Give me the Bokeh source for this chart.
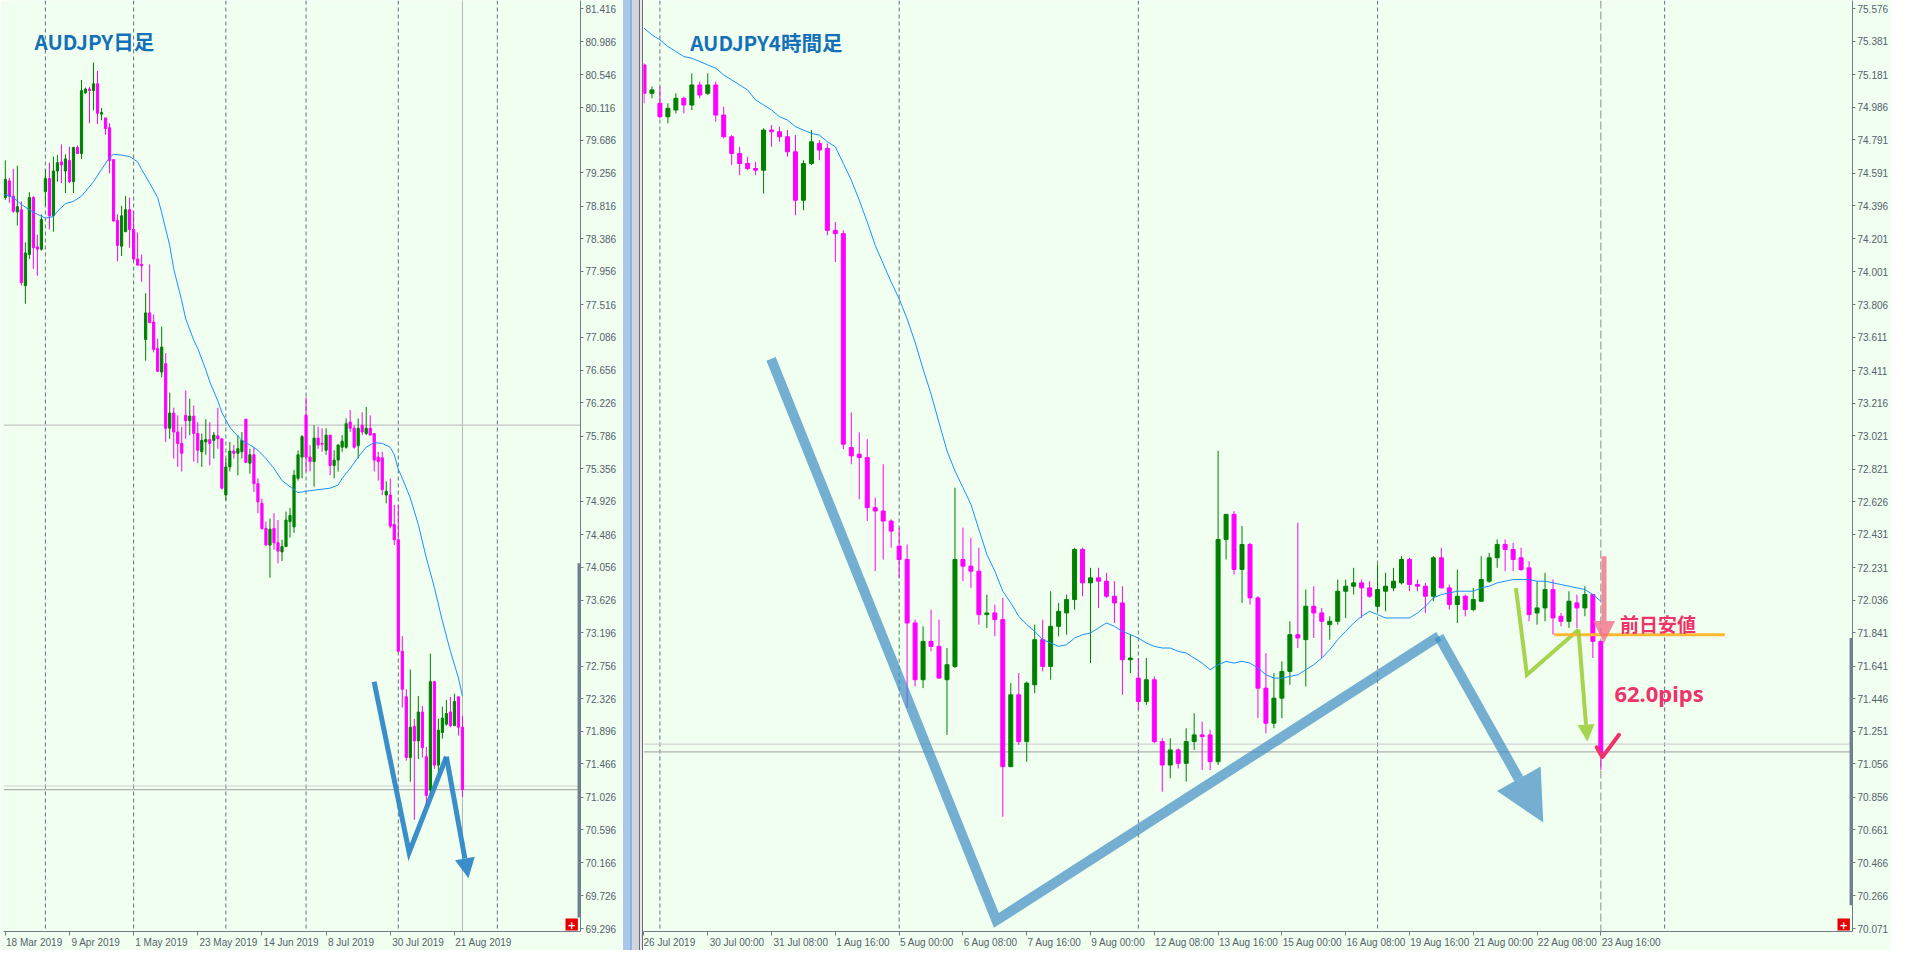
from bokeh.plotting import figure
from bokeh.layouts import row
from bokeh.models import (ColumnDataSource, FixedTicker, PrintfTickFormatter, Span, Label,
                          Arrow, NormalHead, BoxAnnotation, Div, Range1d)
from bokeh.embed import file_html
from bokeh.resources import INLINE

# ---------------- DATA : daily AUDJPY (18 Mar 2019 .. 23 Aug 2019) ----------------
d_open = [78.93, 79.15, 78.95, 78.74, 78.77, 77.77, 78.18, 78.93, 78.28, 78.25,
          79.01, 79.18, 78.69, 79.28, 79.40, 79.28, 79.42, 79.14, 79.59, 79.51,
          80.31, 80.36, 80.34, 80.43, 80.03, 79.98, 79.85, 79.43, 78.63, 78.29,
          78.48, 78.77, 78.51, 78.12, 78.05, 77.06, 77.41, 77.29, 76.94, 76.63,
          76.74, 75.89, 76.09, 75.84, 75.69, 76.06, 75.99, 76.05, 75.82, 75.58,
          75.71, 75.74, 75.73, 75.79, 75.75, 75.01, 75.38, 75.59, 75.56, 75.58,
          76.01, 75.43, 75.54, 75.16, 74.90, 74.57, 74.35, 74.57, 74.38, 74.26,
          74.33, 74.66, 74.59, 75.23, 75.51, 76.06, 75.51, 75.45, 75.76, 75.69,
          75.60, 75.80, 75.40, 75.47, 75.64, 75.64, 75.97, 75.89, 75.66, 75.93,
          75.82, 75.89, 75.82, 75.51, 75.50, 75.01, 75.01, 74.62, 74.42, 72.95,
          72.35, 71.55, 71.96, 71.77, 72.15, 71.56, 71.12, 72.55, 71.45, 71.88,
          71.99, 72.15, 71.97, 72.35, 71.95]
d_high = [79.42, 79.19, 79.31, 79.35, 78.88, 78.34, 79.00, 78.95, 78.44, 78.71,
          79.30, 79.39, 79.47, 79.49, 79.63, 79.50, 79.60, 79.60, 79.62, 80.48,
          80.38, 80.39, 80.71, 80.60, 80.11, 79.98, 79.91, 79.43, 78.71, 78.82,
          78.95, 78.93, 78.75, 78.47, 78.18, 77.67, 78.05, 77.39, 77.07, 77.23,
          76.88, 76.36, 76.16, 76.06, 75.91, 76.39, 76.28, 76.19, 75.97, 75.82,
          76.01, 75.97, 75.84, 76.16, 75.75, 75.49, 75.71, 75.67, 75.80, 75.84,
          76.01, 75.62, 75.64, 75.23, 74.96, 74.66, 74.70, 74.77, 74.68, 74.42,
          74.79, 74.84, 75.34, 75.60, 75.80, 76.30, 75.67, 75.93, 75.91, 75.89,
          75.89, 75.80, 75.60, 75.67, 75.80, 76.02, 76.13, 75.93, 76.02, 76.10,
          76.17, 76.06, 75.82, 75.58, 75.58, 75.19, 75.23, 74.88, 74.88, 73.15,
          72.45, 72.71, 72.06, 72.36, 72.23, 71.69, 72.92, 72.56, 72.06, 72.22,
          72.31, 72.35, 72.39, 72.35, 72.10]
d_low = [78.90, 78.86, 78.73, 78.56, 77.77, 77.53, 78.12, 77.99, 77.90, 78.23,
         78.82, 78.51, 78.48, 79.14, 79.12, 78.99, 79.12, 78.99, 79.51, 79.44,
         80.30, 79.91, 80.08, 79.90, 79.95, 79.76, 79.25, 78.62, 78.09, 78.16,
         78.48, 78.27, 78.09, 78.03, 77.82, 76.78, 77.28, 76.89, 76.63, 76.56,
         75.71, 75.75, 75.49, 75.38, 75.32, 75.75, 75.80, 75.45, 75.43, 75.38,
         75.54, 75.40, 75.49, 75.62, 75.08, 74.94, 75.32, 75.49, 75.27, 75.49,
         75.43, 75.29, 75.05, 74.77, 74.55, 74.35, 73.92, 74.29, 74.11, 74.14,
         74.33, 74.45, 74.51, 75.20, 75.23, 75.32, 75.32, 75.12, 75.62, 75.58,
         75.54, 75.27, 75.23, 75.32, 75.58, 75.62, 75.84, 75.62, 75.49, 75.80,
         75.80, 75.80, 75.32, 75.20, 75.01, 74.90, 74.57, 74.35, 72.95, 72.21,
         71.51, 71.23, 70.73, 71.53, 71.55, 70.92, 71.05, 71.40, 71.36, 71.80,
         71.97, 71.95, 71.97, 71.84, 71.03]
d_close = [79.17, 78.95, 78.75, 78.81, 77.81, 78.20, 78.93, 78.27, 78.25, 78.64,
           79.18, 78.69, 79.28, 79.39, 79.36, 79.44, 79.14, 79.59, 79.51, 80.34,
           80.36, 80.34, 80.43, 80.04, 80.05, 79.84, 79.42, 78.62, 78.30, 78.69,
           78.77, 78.51, 78.12, 78.04, 78.03, 77.41, 77.28, 76.93, 76.64, 76.96,
           75.89, 76.09, 75.84, 75.69, 75.56, 75.99, 76.05, 75.82, 75.60, 75.73,
           75.74, 75.69, 75.80, 75.75, 75.10, 75.38, 75.59, 75.56, 75.62, 75.73,
           75.44, 75.54, 75.16, 74.92, 74.57, 74.35, 74.56, 74.38, 74.27, 74.33,
           74.68, 74.74, 75.27, 75.54, 75.78, 75.51, 75.45, 75.76, 75.67, 75.68,
           75.80, 75.40, 75.47, 75.67, 75.72, 75.95, 75.89, 75.64, 75.89, 75.84,
           75.89, 75.80, 75.47, 75.45, 75.08, 75.06, 74.60, 74.42, 72.95, 72.45,
           71.55, 71.95, 71.77, 72.15, 71.68, 71.05, 72.55, 71.45, 71.91, 72.07,
           72.13, 71.97, 72.29, 71.95, 71.13]
d_ma_bars = [0, 2, 4, 6, 8, 10, 12, 13, 15, 17, 19, 20, 22, 24, 26, 27, 29, 31, 33, 34,
             36, 38, 39, 41, 42, 44, 45, 47, 48, 50, 51, 53, 54, 56, 57, 59, 61, 63, 65, 67,
             69, 71, 73, 75, 78, 81, 83, 84, 86, 88, 90, 92, 94, 96, 97, 98, 99, 101, 103, 105,
             107, 109, 111, 113, 114]
d_ma = [78.97, 78.93, 78.84, 78.77, 78.71, 78.66, 78.68, 78.75, 78.85, 78.88, 78.95, 79.01, 79.14,
        79.30, 79.46, 79.50, 79.49, 79.47, 79.40, 79.30, 79.12, 78.93, 78.73, 78.30, 77.99, 77.57,
        77.33, 77.05, 76.94, 76.66, 76.50, 76.25, 76.10, 75.90, 75.84, 75.73, 75.67, 75.60, 75.49,
        75.36, 75.20, 75.12, 75.04, 75.06, 75.08, 75.10, 75.14, 75.23, 75.36, 75.51, 75.64, 75.70,
        75.69, 75.64, 75.54, 75.35, 75.23, 74.97, 74.62, 74.18, 73.79, 73.35, 72.95, 72.60, 72.36]

# ---------------- DATA : 4-hour AUDJPY (26 Jul 16:00 .. 23 Aug 16:00) ----------------
h_open = [75.24, 75.07, 75.01, 74.93, 74.97, 75.04, 75.00, 75.12, 75.07, 75.12,
          74.94, 74.81, 74.71, 74.65, 74.62, 74.61, 74.85, 74.84, 74.81, 74.72,
          74.43, 74.65, 74.77, 74.74, 74.25, 74.23, 72.95, 72.91, 72.89, 72.59,
          72.57, 72.51, 72.36, 72.28, 71.90, 71.56, 71.79, 71.76, 71.56, 71.64,
          72.28, 72.24, 72.21, 71.95, 71.96, 71.92, 71.04, 71.47, 71.19, 71.53,
          71.80, 71.64, 71.88, 71.96, 72.04, 72.34, 72.14, 72.17, 72.15, 72.06,
          72.02, 71.68, 71.57, 71.43, 71.56, 71.19, 71.05, 71.14, 71.06, 71.19,
          71.23, 71.23, 71.07, 72.40, 72.55, 72.22, 72.37, 72.05, 71.51, 71.30,
          71.45, 71.61, 71.83, 71.80, 72.00, 71.96, 71.89, 71.91, 72.09, 72.12,
          72.14, 72.11, 72.00, 72.09, 72.11, 72.14, 72.28, 72.13, 72.12, 72.06,
          72.29, 72.11, 72.01, 72.06, 71.98, 72.03, 72.15, 72.29, 72.37, 72.34,
          72.29, 72.23, 71.96, 71.99, 72.10, 71.94, 71.91, 72.02, 71.99, 72.07,
          71.79]
h_high = [75.25, 75.11, 75.11, 75.01, 75.07, 75.05, 75.19, 75.14, 75.19, 75.14,
          74.99, 74.82, 74.75, 74.69, 74.66, 74.86, 74.88, 74.87, 74.85, 74.82,
          74.67, 74.85, 74.79, 74.77, 74.30, 74.25, 73.16, 73.04, 73.00, 72.65,
          72.85, 72.52, 72.47, 72.37, 71.92, 71.88, 71.98, 71.92, 71.75, 72.71,
          72.47, 72.41, 72.35, 72.07, 72.01, 72.05, 71.54, 71.60, 71.55, 71.89,
          71.92, 72.09, 72.02, 72.07, 72.35, 72.35, 72.23, 72.23, 72.20, 72.15,
          72.12, 71.83, 71.69, 71.69, 71.58, 71.21, 71.21, 71.15, 71.27, 71.36,
          71.31, 71.26, 72.93, 72.55, 72.57, 72.48, 72.38, 72.06, 71.72, 71.60,
          71.67, 71.91, 72.50, 72.10, 72.12, 71.99, 71.94, 72.16, 72.16, 72.23,
          72.16, 72.15, 72.25, 72.20, 72.23, 72.30, 72.29, 72.16, 72.14, 72.30,
          72.35, 72.13, 72.22, 72.07, 72.11, 72.30, 72.32, 72.40, 72.40, 72.38,
          72.35, 72.27, 72.15, 72.20, 72.16, 71.96, 72.09, 72.07, 72.12, 72.07,
          71.79]
h_low = [75.01, 75.04, 74.92, 74.89, 74.95, 74.95, 74.97, 75.04, 75.06, 74.90,
         74.80, 74.64, 74.58, 74.61, 74.58, 74.47, 74.75, 74.78, 74.69, 74.34,
         74.37, 74.64, 74.67, 74.22, 74.06, 72.94, 72.85, 72.64, 72.51, 72.21,
         72.28, 72.35, 72.17, 71.39, 71.52, 71.51, 71.73, 71.57, 71.23, 71.63,
         72.15, 72.11, 71.89, 71.87, 71.82, 70.74, 71.04, 71.17, 71.07, 71.48,
         71.61, 71.56, 71.82, 71.83, 71.98, 72.06, 71.66, 71.99, 72.05, 71.90,
         71.47, 71.60, 71.38, 71.41, 71.18, 70.89, 70.97, 71.03, 70.95, 71.14,
         71.02, 71.02, 71.05, 72.28, 72.19, 72.02, 72.01, 71.33, 71.24, 71.27,
         71.33, 71.53, 71.75, 71.52, 71.81, 71.69, 71.80, 71.89, 71.93, 72.07,
         71.93, 72.05, 71.97, 71.97, 72.09, 72.13, 72.09, 72.09, 71.96, 72.03,
         72.11, 71.98, 71.90, 71.94, 71.97, 72.03, 72.14, 72.23, 72.21, 72.21,
         72.21, 71.91, 71.89, 71.91, 71.83, 71.88, 71.87, 71.87, 71.94, 71.69,
         71.02]
h_close = [75.07, 75.09, 74.93, 74.98, 75.04, 75.00, 75.12, 75.06, 75.12, 74.94,
           74.81, 74.71, 74.65, 74.62, 74.61, 74.85, 74.84, 74.81, 74.72, 74.43,
           74.65, 74.78, 74.73, 74.25, 74.23, 72.97, 72.90, 72.89, 72.59, 72.57,
           72.51, 72.45, 72.28, 71.90, 71.56, 71.79, 71.76, 71.57, 71.65, 72.28,
           72.24, 72.21, 71.95, 71.96, 71.92, 71.04, 71.47, 71.19, 71.54, 71.80,
           71.64, 71.88, 71.97, 72.04, 72.34, 72.14, 72.17, 72.15, 72.06, 72.02,
           71.68, 71.69, 71.43, 71.56, 71.19, 71.05, 71.14, 71.06, 71.19, 71.23,
           71.22, 71.07, 72.40, 72.55, 72.22, 72.37, 72.05, 71.51, 71.30, 71.45,
           71.61, 71.83, 71.81, 72.00, 71.96, 71.91, 71.91, 72.09, 72.12, 72.14,
           72.11, 72.06, 72.10, 72.12, 72.15, 72.28, 72.13, 72.12, 72.06, 72.29,
           72.11, 72.01, 72.06, 71.98, 72.04, 72.16, 72.29, 72.37, 72.34, 72.28,
           72.22, 71.95, 71.99, 72.10, 71.93, 71.91, 72.03, 71.99, 72.07, 71.79,
           71.12]
h_ma = [75.46, 75.42, 75.39, 75.35, 75.32, 75.29, 75.28, 75.26, 75.24, 75.22,
        75.18, 75.15, 75.12, 75.09, 75.03, 75.00, 74.97, 74.93, 74.91, 74.87,
        74.85, 74.83, 74.82, 74.78, 74.75, 74.65, 74.55, 74.43, 74.30, 74.16,
        74.05, 73.94, 73.84, 73.72, 73.58, 73.42, 73.27, 73.10, 72.93, 72.81,
        72.71, 72.61, 72.46, 72.31, 72.21, 72.09, 72.02, 71.94, 71.89, 71.85,
        71.80, 71.78, 71.76, 71.77, 71.81, 71.83, 71.84, 71.87, 71.90, 71.88,
        71.85, 71.83, 71.81, 71.78, 71.76, 71.75, 71.75, 71.73, 71.72, 71.69,
        71.66, 71.62, 71.65, 71.67, 71.66, 71.67, 71.66, 71.63, 71.59, 71.57,
        71.57, 71.58, 71.59, 71.62, 71.65, 71.69, 71.74, 71.80, 71.85, 71.90,
        71.94, 71.97, 71.95, 71.93, 71.93, 71.93, 71.93, 71.96, 72.00, 72.05,
        72.07, 72.08, 72.09, 72.09, 72.09, 72.11, 72.12, 72.14, 72.15, 72.16,
        72.16, 72.16, 72.15, 72.15, 72.14, 72.13, 72.12, 72.11, 72.10, 72.07,
        72.03]

# ---------------- axis labels ----------------
d_price_ticks = [81.416, 80.986, 80.546, 80.116, 79.686, 79.256, 78.816, 78.386, 77.956, 77.516,
                 77.086, 76.656, 76.226, 75.786, 75.356, 74.926, 74.486, 74.056, 73.626, 73.196,
                 72.756, 72.326, 71.896, 71.466, 71.026, 70.596, 70.166, 69.726, 69.296]
h_price_ticks = [75.576, 75.381, 75.181, 74.986, 74.791, 74.591, 74.396, 74.201, 74.001, 73.806,
                 73.611, 73.411, 73.216, 73.021, 72.821, 72.626, 72.431, 72.231, 72.036, 71.841,
                 71.641, 71.446, 71.251, 71.056, 70.856, 70.661, 70.466, 70.266, 70.071]
d_date_labels = ["18 Mar 2019", "9 Apr 2019", "1 May 2019", "23 May 2019", "14 Jun 2019",
                 "8 Jul 2019", "30 Jul 2019", "21 Aug 2019"]
d_date_bars = [0, 16, 32, 48, 64, 80, 96, 112]
h_date_labels = ["26 Jul 2019", "30 Jul 00:00", "31 Jul 08:00", "1 Aug 16:00", "5 Aug 00:00",
                 "6 Aug 08:00", "7 Aug 16:00", "9 Aug 00:00", "12 Aug 08:00", "13 Aug 16:00",
                 "15 Aug 00:00", "16 Aug 08:00", "19 Aug 16:00", "21 Aug 00:00", "22 Aug 08:00",
                 "23 Aug 16:00"]
h_date_bars = [0, 8, 16, 24, 32, 40, 48, 56, 64, 72, 80, 88, 96, 104, 112, 120]
d_month_starts = [10, 32, 55, 75, 98, 122.7]
h_week_starts = [2, 32, 62, 92, 128]
d_hlines = [75.930, 71.175, 71.128]
h_hlines = [71.175, 71.128]
prev_day_low = 71.83

# ---------------- style ----------------
BG = "#F0FFF0"
BULL = "#008000"
BEAR = "#FF00FF"
AX = "#6F7C88"
TXT = "#56616C"
PINK = "#F0326A"
TITLE = "#1470B8"
AXFONT = "Liberation Sans"
NBSP = "\u00a0"
# approximate advance widths (em) of Liberation Sans, used to left-align date labels
CHAR_EM = {" ": 0.278, ":": 0.278, "J": 0.5, "u": 0.556, "l": 0.222, "A": 0.667, "p": 0.556,
           "r": 0.333, "M": 0.833, "a": 0.556, "y": 0.5, "g": 0.556, "n": 0.556}


def left_aligned(s):
    """Axis labels are centred on their tick; pad on the left so the text starts at the tick."""
    w = sum(CHAR_EM.get(ch, 0.556) for ch in s)
    return NBSP * (int(round(w / 0.278)) + 1) + s


def make_fig(width, x_rng, y_rng, border_left, border_right):
    p = figure(width=width, height=950, x_range=Range1d(*x_rng), y_range=Range1d(*y_rng),
               y_axis_location="right", output_backend="svg", toolbar_location=None,
               min_border=0, min_border_left=border_left, min_border_right=border_right,
               min_border_top=0, min_border_bottom=15)
    p.background_fill_color = BG
    p.border_fill_color = BG
    p.outline_line_color = None
    p.grid.visible = False
    for ax in (p.xaxis[0], p.yaxis[0]):
        ax.axis_line_color = AX
        ax.major_tick_line_color = AX
        ax.minor_tick_line_color = None
        ax.major_tick_in = 0
        ax.major_label_text_font = AXFONT
        ax.major_label_text_font_size = "10px"
        ax.major_label_text_color = TXT
    p.yaxis.major_tick_out = 3
    p.yaxis.major_label_standoff = 2
    p.xaxis.major_tick_out = 4
    p.xaxis.major_label_standoff = 1
    p.yaxis.formatter = PrintfTickFormatter(format="%.3f")
    return p


def date_axis(p, bars, labels, first_pad):
    # the first label sits at the window edge (it is pushed inside the canvas), so it gets
    # only a small lead; every other label is padded so that it starts at its tick
    p.xaxis.ticker = FixedTicker(ticks=bars)
    over = {b: left_aligned(s) for b, s in zip(bars, labels)}
    over[bars[0]] = NBSP * first_pad + labels[0]
    p.xaxis.major_label_overrides = over


def add_candles(p, o, h, l, c, body_w):
    n = len(o)
    for bull, color in ((True, BULL), (False, BEAR)):
        idx = [i for i in range(n) if (c[i] >= o[i]) == bull]
        src = ColumnDataSource(dict(
            x=idx, hi=[h[i] for i in idx], lo=[l[i] for i in idx],
            top=[max(o[i], c[i]) for i in idx], bot=[min(o[i], c[i]) for i in idx]))
        p.segment("x", "hi", "x", "lo", source=src, line_color=color, line_width=1)
        p.vbar(x="x", top="top", bottom="bot", width=body_w, source=src,
               fill_color=color, line_color=color, line_width=1)


def red_box(p, x, y):
    p.add_layout(Label(x=x, y=y, x_offset=-15, y_offset=1, text="+", text_align="left",
                       text_baseline="bottom", text_font="DejaVu Sans", text_font_size="10px",
                       text_font_style="bold", text_color="white", padding=2,
                       background_fill_color="#E60000", border_line_color=None))


# ================= LEFT : daily =================
DX = (-0.45, 143.44)
DY = (69.257, 81.5275)
pd_ = make_fig(622, DX, DY, 3, 42)
pd_.yaxis.ticker = FixedTicker(ticks=d_price_ticks)
date_axis(pd_, d_date_bars, d_date_labels, 2)

for b in d_month_starts:
    pd_.add_layout(Span(location=b, dimension="height", line_color="#5F6F7F",
                        line_dash="4 3", line_width=1, level="underlay"))
pd_.add_layout(Span(location=len(d_open) - 1, dimension="height", line_color="#B4B4B4",
                    line_width=1, level="underlay"))
for v, col in zip(d_hlines, ["#C4C4C4", "#D4D4D4", "#B0B0B0"]):
    pd_.add_layout(Span(location=v, dimension="width", line_color=col, line_width=1.2,
                        level="underlay"))

add_candles(pd_, d_open, d_high, d_low, d_close, 0.55)
pd_.line(d_ma_bars, d_ma, line_color="#1E90FF", line_width=1)

# hand-drawn W arrow (daily)
pd_.line([91.97, 100.7, 110.0], [72.55, 70.30, 71.56], line_color="#2A84C6",
         line_width=5, line_alpha=0.92, line_join="miter")
pd_.add_layout(Arrow(x_start=110.0, y_start=71.56, x_end=115.5, y_end=69.96,
                     line_color="#2A84C6", line_width=5, line_alpha=0.92,
                     end=NormalHead(size=20, fill_color="#2A84C6", fill_alpha=0.92,
                                    line_color=None)))

pd_.add_layout(Label(x=7.3, y=81.0, text="AUDJPY日足", text_font="Noto Sans CJK JP",
                     text_font_style="bold", text_font_size="20.5px", text_color=TITLE,
                     text_baseline="middle", text_align="left"))

pd_.add_layout(BoxAnnotation(left=142.7, right=DX[1], bottom=69.44, top=74.11,
                             fill_color="#708090", fill_alpha=1, line_color=None))
red_box(pd_, DX[1], DY[0])

# ================= RIGHT : 4 hour =================
HX = (-0.06, 151.56)
HY = (70.0534, 75.6255)
ph = make_fig(1248, HX, HY, 0, 35)
ph.yaxis.ticker = FixedTicker(ticks=h_price_ticks)
date_axis(ph, h_date_bars, h_date_labels, 0)

for b in h_week_starts:
    ph.add_layout(Span(location=b, dimension="height", line_color="#5F6F7F",
                       line_dash="4 3", line_width=1, level="underlay"))
ph.add_layout(Span(location=len(h_open) - 1, dimension="height", line_color="#8C8C8C",
                   line_dash="8 3", line_width=1, level="underlay"))
for v, col in zip(h_hlines, ["#D4D4D4", "#B0B0B0"]):
    ph.add_layout(Span(location=v, dimension="width", line_color=col, line_width=1.2,
                       level="underlay"))

add_candles(ph, h_open, h_high, h_low, h_close, 0.5)
ph.line(list(range(len(h_ma))), h_ma, line_color="#1E90FF", line_width=1)

# big light-blue V + arrow
BLUE = "#3E8DC4"
ph.line([15.94, 44.19, 99.69], [73.48, 70.12, 71.82], line_color=BLUE, line_width=10,
        line_alpha=0.7, line_join="miter")
ph.add_layout(Arrow(x_start=99.69, y_start=71.82, x_end=112.78, y_end=70.706,
                    line_color=BLUE, line_width=10, line_alpha=0.7,
                    end=NormalHead(size=50, fill_color=BLUE, fill_alpha=0.7, line_color=None)))

# small green W arrow
GREEN = "#9ACD32"
ph.line([109.35, 110.73, 117.19], [72.11, 71.59, 71.86], line_color=GREEN, line_width=4,
        line_alpha=0.85, line_join="miter")
ph.add_layout(Arrow(x_start=117.19, y_start=71.86, x_end=118.31, y_end=71.19,
                    line_color=GREEN, line_width=4, line_alpha=0.85,
                    end=NormalHead(size=17, fill_color=GREEN, fill_alpha=0.85, line_color=None)))

# previous day low line
ph.line([114.15, 135.56], [prev_day_low, prev_day_low], line_color="#FFB833", line_width=3)

# pink down arrow
ph.add_layout(Arrow(x_start=120.4, y_start=72.30, x_end=120.4, y_end=71.78,
                    line_color="#F2708A", line_width=5, line_alpha=0.8,
                    end=NormalHead(size=22, fill_color="#F2708A", fill_alpha=0.8, line_color=None)))

# check mark
ph.line([119.48, 120.19, 122.28], [71.156, 71.097, 71.231], line_color=PINK, line_width=4,
        line_cap="round", line_join="round")

ph.add_layout(Label(x=5.8, y=75.38, text="AUDJPY4時間足", text_font="Noto Sans CJK JP",
                    text_font_style="bold", text_font_size="20.5px", text_color=TITLE,
                    text_baseline="middle", text_align="left"))
ph.add_layout(Label(x=122.4, y=71.895, text="前日安値", text_font="Noto Sans CJK JP",
                    text_font_style="bold", text_font_size="19px", text_color=PINK,
                    text_baseline="middle", text_align="left"))
ph.add_layout(Label(x=121.7, y=71.478, text="62.0pips", text_font="Noto Sans",
                    text_font_style="bold", text_font_size="22px", text_color=PINK,
                    text_baseline="middle", text_align="left"))

ph.add_layout(BoxAnnotation(left=151.19, right=HX[1], bottom=70.21, top=71.81,
                            fill_color="#708090", fill_alpha=1, line_color=None))
red_box(ph, HX[1], HY[0])

# window border between the two chart windows
sep = Div(text="", width=21, height=950, margin=0, styles={
    "background": "linear-gradient(to right, #FFFFFF 0px, #FFFFFF 1px, #A9C8EA 1px, "
                  "#A9C8EA 8px, #8FB3DD 8px, #8FB3DD 10px, #D0D6DF 10px, #D0D6DF 17px, "
                  "#6D6D6D 17px, #6D6D6D 18px, #E8E8E8 18px, #E8E8E8 20px, #6D6D6D 20px)"})

layout = row(pd_, sep, ph, spacing=0)
open("out.html", "w").write(file_html(layout, INLINE, title="AUDJPY"))
